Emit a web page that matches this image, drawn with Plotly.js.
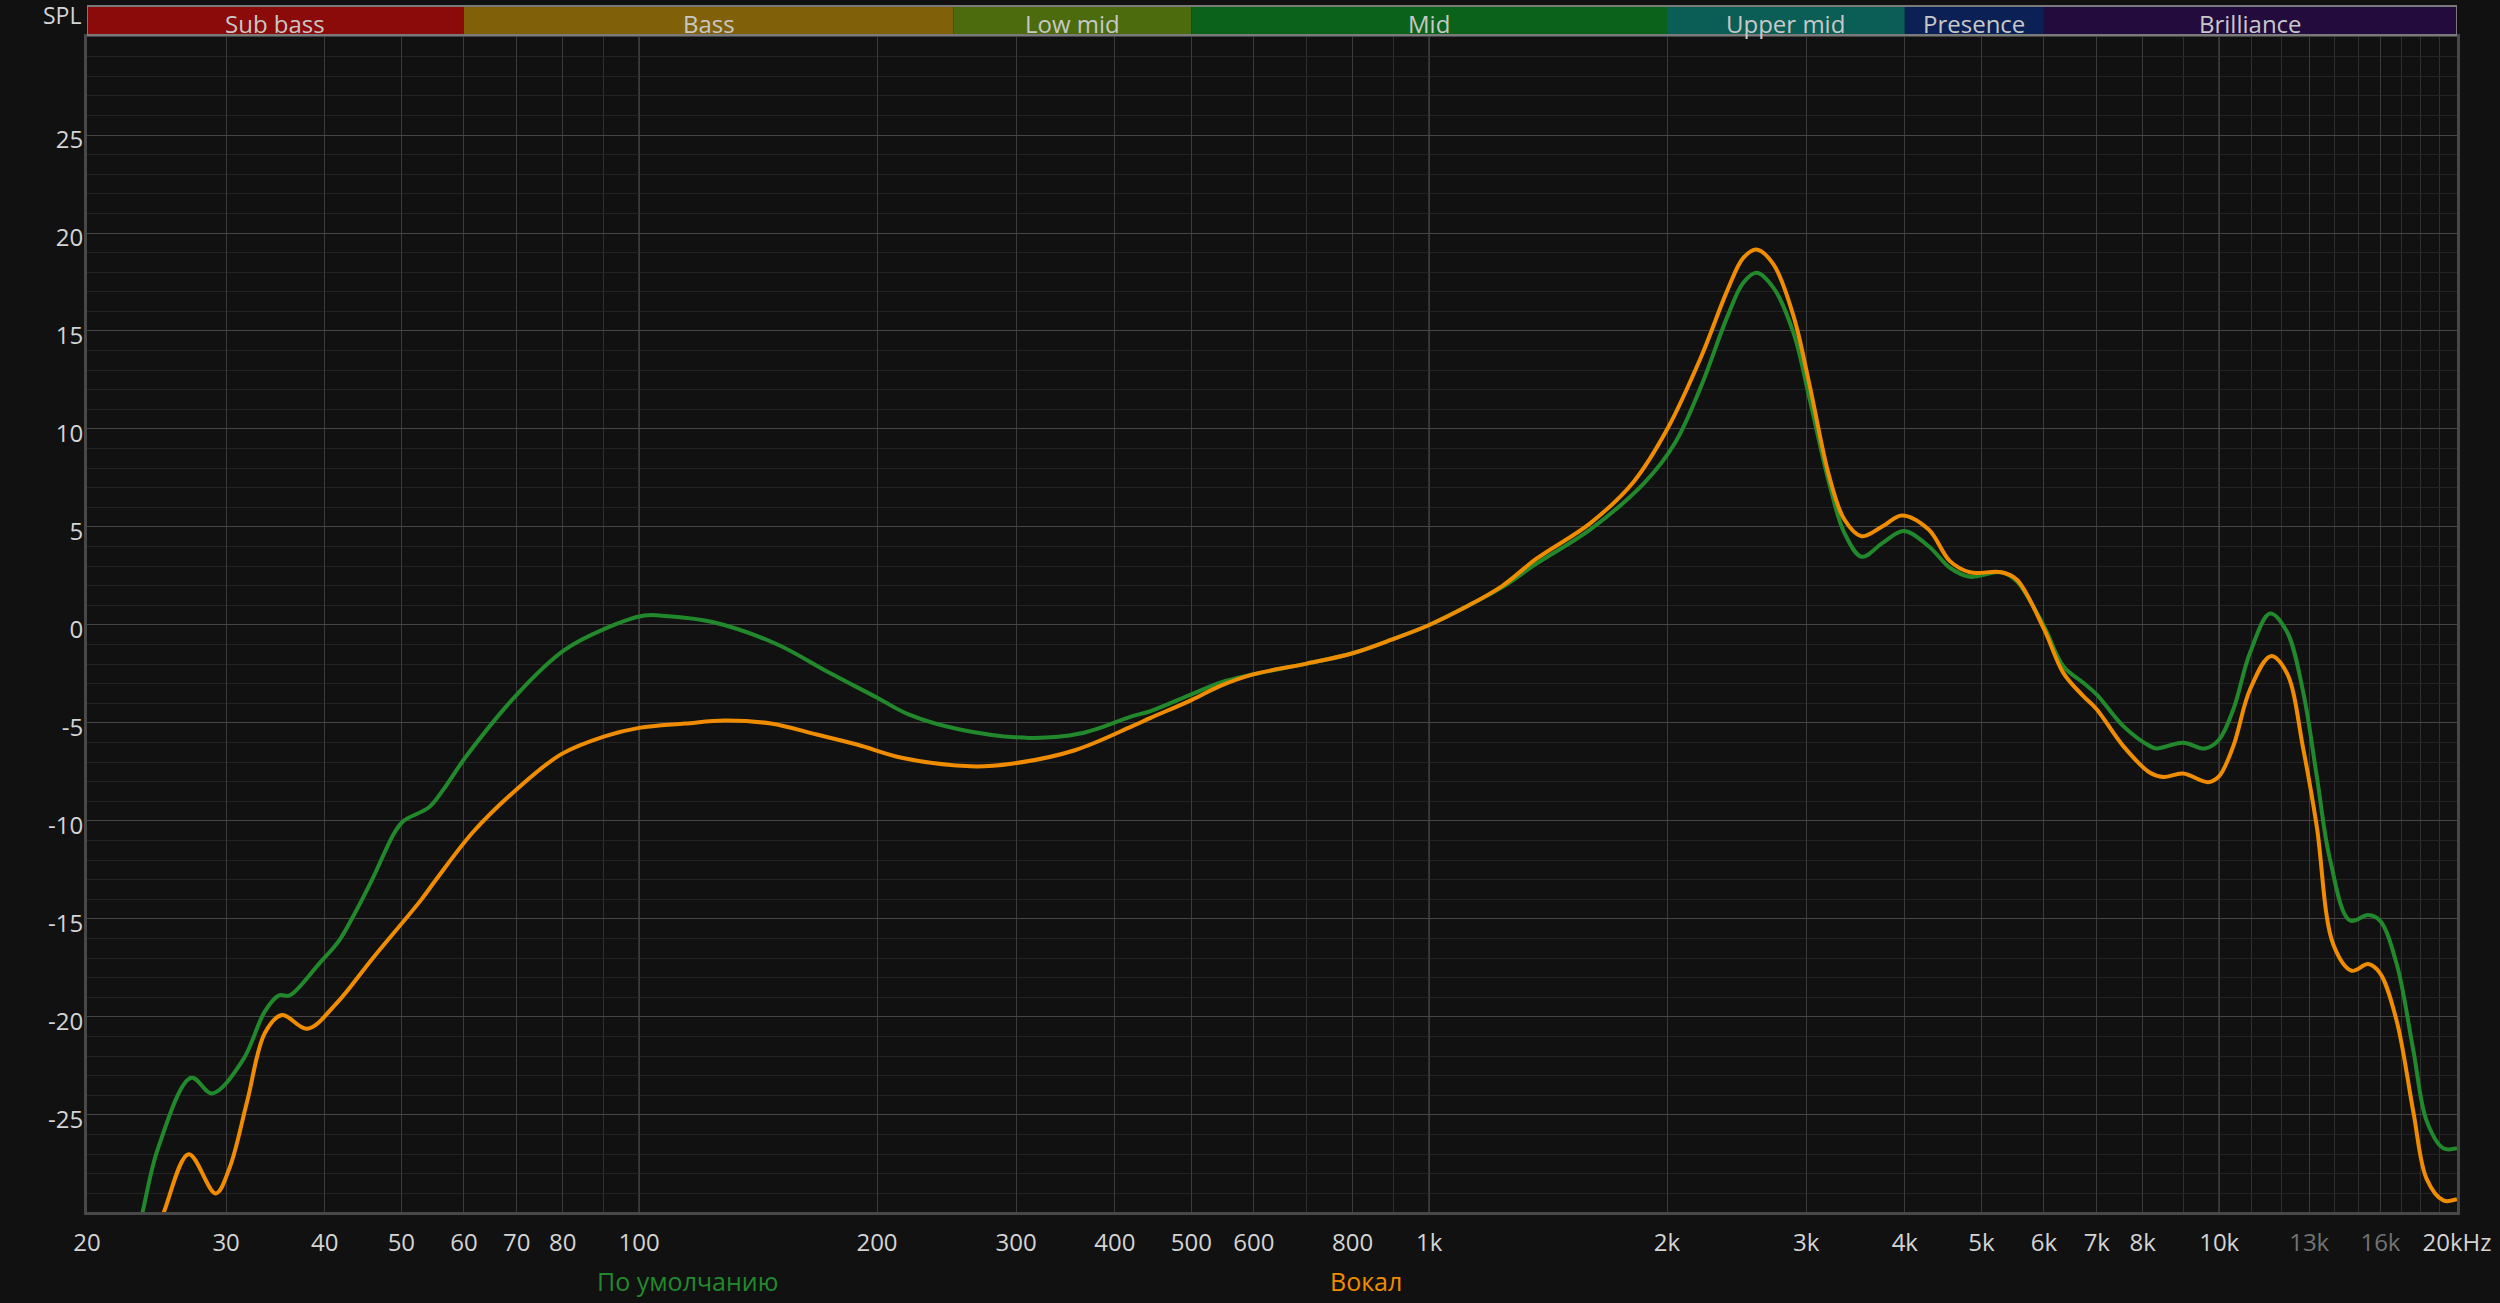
<!DOCTYPE html>
<html><head><meta charset="utf-8">
<script src="https://cdn.plot.ly/plotly-3.0.1.min.js"></script>
<style>html,body{margin:0;padding:0;background:#111111;overflow:hidden}#chart{width:2500px;height:1303px;}</style>
</head><body><div id="chart"></div>
<script>
// ---- data ----
const freqDefault = [23.0,23.5,24.6,27.1,28.8,31.5,33.6,35.0,36.1,39.3,41.7,43.4,45.9,49.0,50.3,54.2,56.5,60.4,70.2,80.3,90.4,101.5,108.6,124.2,149.2,173.4,199.9,219.3,254.6,311.6,361.4,421,444,500,544,600,700,800,900,1000,1110,1238,1367,1600,1872,2048,2210,2386,2498,2596,2728,2892,3032,3208,3354,3527,3750,3988,4288,4562,4836,5300,5542,6000,6348,6730,7000,7562,8174,8334,9000,9594,10000,10420,10940,11598,12176,12780,13288,13812,14640,15440,15978,16776,17610,18306,19218,20000];
const splDefault  = [-31.5,-30.0,-26.7,-23.1,-23.9,-22.2,-19.7,-18.9,-18.9,-17.3,-16.1,-14.9,-13.0,-10.6,-10.0,-9.3,-8.4,-6.7,-3.5,-1.3,-0.2,0.48,0.45,0.14,-0.97,-2.4,-3.7,-4.56,-5.33,-5.76,-5.54,-4.65,-4.39,-3.54,-2.94,-2.51,-1.97,-1.44,-0.72,0,0.9,1.93,3.13,4.88,7.25,9.3,12.2,15.76,17.46,17.97,17.2,14.9,11.5,7.25,4.7,3.48,4.19,4.79,4.02,2.92,2.46,2.69,2.24,-0.06,-2.1,-2.95,-3.55,-5.16,-6.18,-6.3,-6.01,-6.3,-5.84,-4.31,-1.42,0.59,-0.32,-3.46,-7.7,-11.96,-15.08,-14.8,-15.08,-17.3,-21.7,-25.3,-26.7,-26.7];
const freqVocal = [24.3,25.0,26.9,29.1,30.3,31.9,33.6,35.3,38.0,41.4,46.0,52.9,55.3,61.5,69.1,79.6,90.4,100,114.3,128.4,146.8,167.8,188.6,215.6,263,296,356,421,444,500,544,600,700,800,900,1000,1110,1238,1367,1600,1814,2000,2210,2386,2498,2596,2728,2892,3032,3208,3354,3527,3750,3966,4288,4562,4836,5300,5542,6000,6348,6730,7000,7562,8174,8498,9000,9688,10000,10420,10940,11622,12176,12780,13288,13946,14714,15440,15978,16776,17610,18306,19218,20000];
const splVocal  = [-31.2,-30.0,-27.0,-29.0,-27.7,-24.3,-20.8,-19.9,-20.6,-19.3,-17.0,-14.05,-13.0,-10.6,-8.58,-6.6,-5.68,-5.25,-5.03,-4.87,-5.03,-5.59,-6.1,-6.79,-7.21,-7.08,-6.39,-5.16,-4.74,-3.83,-3.11,-2.51,-1.97,-1.44,-0.72,0,0.9,2.0,3.38,5.2,7.3,9.97,13.7,17.1,18.73,19.16,18.4,15.76,12.2,7.6,5.38,4.53,5.04,5.59,4.87,3.26,2.69,2.69,2.32,-0.2,-2.44,-3.63,-4.31,-6.18,-7.54,-7.75,-7.58,-8.02,-7.71,-6.18,-3.29,-1.59,-2.44,-6.35,-10.26,-16.3,-17.64,-17.3,-17.76,-20.2,-24.84,-28.26,-29.36,-29.3];
const seriesNames = ['По умолчанию','Вокал'];
const seriesColors = ['#21892b','#f08c00'];

const tickFreqs  = [20,30,40,50,60,70,80,100,200,300,400,500,600,800,1000,2000,3000,4000,5000,6000,7000,8000,10000,13000,16000,20000];
const tickLabels = ['20','30','40','50','60','70','80','100','200','300','400','500','600','800','1k','2k','3k','4k','5k','6k','7k','8k','10k','13k','16k','20kHz'];
const dimTickLabels = ['13k','16k'];
const minorGridFreqs = [90,700,900,9000,11000,12000,14000,15000,17000,18000,19000];
const decadeFreqs = [100,1000,10000];
const yTickVals = [-25,-20,-15,-10,-5,0,5,10,15,20,25];
const yTickLabels = ['-25','-20','-15','-10','-5','0','5','10','15','20','25'];

const bandNames  = ['Sub bass','Bass','Low mid','Mid','Upper mid','Presence','Brilliance'];
const bandEdges  = [20,60,250,500,2000,4000,6000,20000];
const bandColors = ['#8b0a0a','#80610a','#4b6b0c','#0b631b','#0b5e55','#0b2155','#230b3d'];

// ---- layout helpers ----
const FONT = 'Open Sans, Noto Sans, sans-serif';
const W = 2500, H = 1303;
const M = {l:87, r:43, t:37, b:91};
const plotH = H - M.t - M.b;
const pyPaper = px => (H - M.b - px) / plotH;   // pixel row -> paper y
const lo = Math.log10(bandEdges[0]), hi = Math.log10(bandEdges[bandEdges.length-1]);
const fxPaper = f => (Math.log10(f) - lo) / (hi - lo);

const traces = [
  {x: freqDefault, y: splDefault, name: seriesNames[0], type:'scatter', mode:'lines',
   line:{color: seriesColors[0], width:4, shape:'spline', smoothing:1}},
  {x: freqVocal, y: splVocal, name: seriesNames[1], type:'scatter', mode:'lines',
   line:{color: seriesColors[1], width:4, shape:'spline', smoothing:1}}
];

const shapes = [];
const annotations = [];
bandNames.forEach((n,i) => {
  shapes.push({type:'rect', xref:'x', yref:'paper', x0:bandEdges[i], x1:bandEdges[i+1],
    y0:pyPaper(35), y1:pyPaper(6), fillcolor:bandColors[i], line:{width:0}, layer:'above'});
  annotations.push({xref:'paper', yref:'paper', x:fxPaper(Math.sqrt(bandEdges[i]*bandEdges[i+1])),
    y:pyPaper(23), text:n, showarrow:false, xanchor:'center', yanchor:'middle',
    font:{family:FONT, size:24, color:'#c8c8c8'}});
});
shapes.push({type:'rect', xref:'x', yref:'paper', x0:bandEdges[0], x1:bandEdges[bandEdges.length-1],
  y0:pyPaper(35), y1:pyPaper(6), fillcolor:'rgba(0,0,0,0)', line:{width:2, color:'#7a7a7a'}, layer:'above'});
decadeFreqs.forEach(f => {
  shapes.push({type:'line', xref:'x', yref:'paper', x0:f, x1:f, y0:0, y1:1,
    line:{color:'#7c7c7c', width:1}, layer:'below'});
});
annotations.push({xref:'paper', yref:'paper', x:-0.0015, y:pyPaper(15), text:'SPL', showarrow:false,
  xanchor:'right', yanchor:'middle', font:{family:FONT, size:23, color:'#d4d4d4'}});
// legend labels under the axis
const legendFreqs = [115, 832];
seriesNames.forEach((n,i) => {
  annotations.push({xref:'paper', yref:'paper', x:fxPaper(legendFreqs[i]), y:pyPaper(1281), text:n,
    showarrow:false, xanchor:'center', yanchor:'middle', font:{family:FONT, size:25, color:seriesColors[i]}});
});

const tickText = tickLabels.map(t => dimTickLabels.includes(t) ? '<span style="color:#737373">'+t+'</span>' : t);

const layout = {
  width:W, height:H, margin:M, paper_bgcolor:'#111111', plot_bgcolor:'#111111',
  showlegend:false, hovermode:false,
  font:{family:FONT, color:'#d4d4d4'},
  xaxis:{type:'log', range:[lo, hi], tickmode:'array', tickvals:tickFreqs, ticktext:tickText,
    tickfont:{family:FONT, size:24, color:'#d4d4d4'}, ticks:'', ticklabelstandoff:7,
    showgrid:true, gridcolor:'#3b3b3b', gridwidth:1, zeroline:false,
    showline:true, mirror:true, linecolor:'#484848', linewidth:3,
    minor:{tickmode:'array', tickvals:minorGridFreqs, showgrid:true, gridcolor:'#2f2f2f', gridwidth:1, ticks:''}},
  yaxis:{range:[-29.95,30], tickmode:'array', tickvals:yTickVals, ticktext:yTickLabels,
    tickfont:{family:FONT, size:24, color:'#d4d4d4'}, ticks:'', ticklabelstandoff:-4, ticklabelshift:5,
    showgrid:true, gridcolor:'#454545', gridwidth:1, zeroline:false,
    showline:true, mirror:true, linecolor:'#484848', linewidth:3,
    minor:{dtick:1, showgrid:true, gridcolor:'#232323', gridwidth:1, ticks:''}},
  shapes:shapes, annotations:annotations
};
Plotly.newPlot('chart', traces, layout, {staticPlot:true, displayModeBar:false});
</script></body></html>
